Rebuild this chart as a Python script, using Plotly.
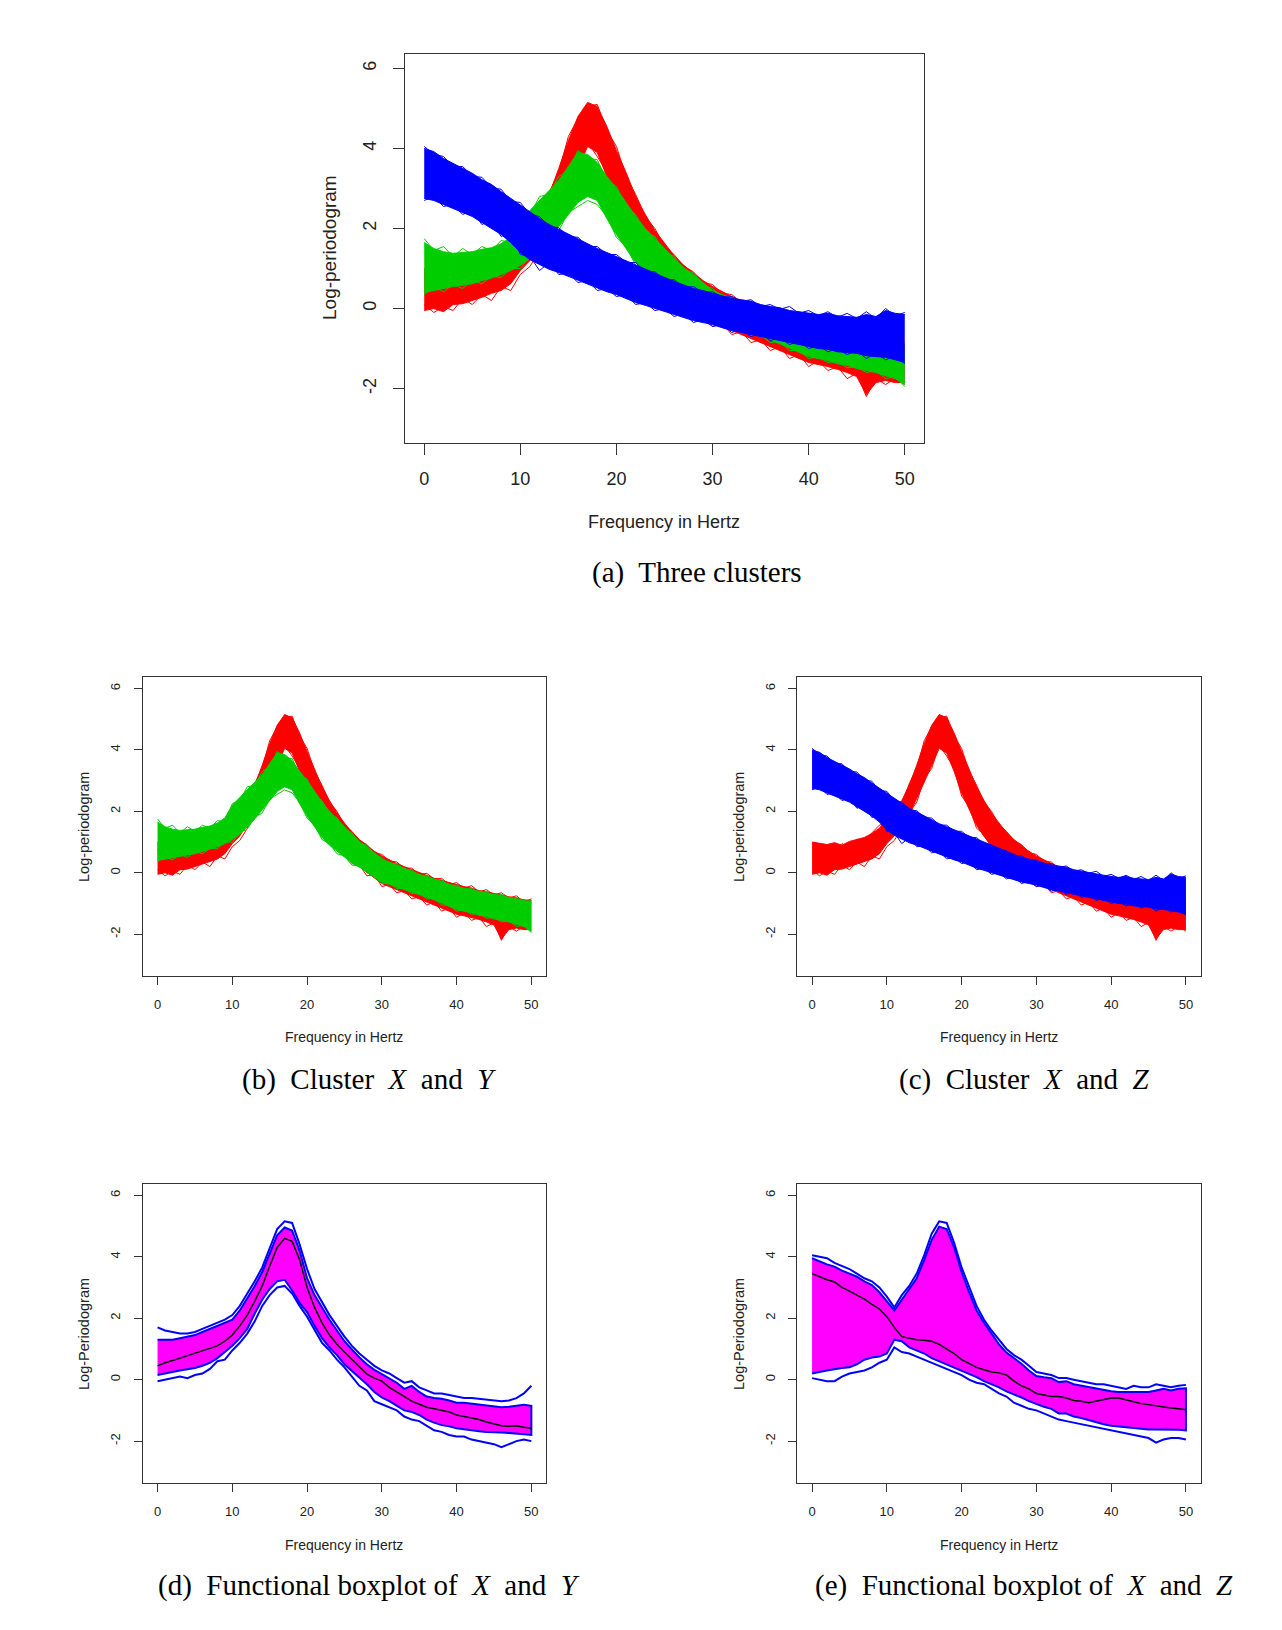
import plotly.graph_objects as go

# frequency grid (Hz)
hz = list(range(0, 51))

# -------------------------- cluster envelopes (log-periodogram) --------------------------
red_hi = [1.00, 0.95, 0.92, 0.98, 0.90, 1.02, 1.08, 1.15, 1.28, 1.45, 1.75, 2.02, 2.35, 2.85, 3.50, 4.20, 4.80,
          5.15, 5.05, 4.55, 3.95, 3.40, 2.80, 2.35, 1.95, 1.62, 1.32, 1.08, 0.88, 0.70, 0.55, 0.42, 0.30, 0.20,
          0.10, 0.00, -0.10, -0.18, -0.25, -0.32, -0.40, -0.45, -0.50, -0.58, -0.62, -0.68, -0.72, -0.78, -0.82,
          -0.88, -0.90]
red_lo = [-0.05, 0.00, -0.08, 0.10, 0.12, 0.20, 0.28, 0.38, 0.45, 0.62, 0.95, 1.20, 1.60, 1.90, 2.40, 2.95, 3.50,
          4.05, 3.90, 3.30, 2.60, 2.08, 1.55, 1.18, 0.88, 0.62, 0.40, 0.20, 0.02, -0.15, -0.35, -0.45, -0.55, -0.65,
          -0.75, -0.85, -0.95, -1.05, -1.15, -1.25, -1.35, -1.40, -1.45, -1.52, -1.60, -1.70, -2.15, -1.85, -1.80,
          -1.85, -1.85]
green_hi = [1.65, 1.50, 1.42, 1.38, 1.40, 1.42, 1.48, 1.52, 1.62, 1.78, 2.20, 2.45, 2.70, 2.95, 3.20, 3.55, 3.90,
            3.85, 3.65, 3.30, 3.00, 2.65, 2.30, 2.00, 1.75, 1.48, 1.25, 1.02, 0.85, 0.65, 0.45, 0.35, 0.25, 0.15,
            0.05, -0.05, -0.12, -0.20, -0.28, -0.38, -0.45, -0.50, -0.55, -0.62, -0.65, -0.72, -0.75, -0.80, -0.85,
            -0.90, -0.95]
green_lo = [0.40, 0.45, 0.50, 0.55, 0.58, 0.62, 0.70, 0.76, 0.85, 0.95, 1.08, 1.25, 1.50, 1.75, 2.05, 2.35, 2.65,
            2.80, 2.70, 2.25, 1.85, 1.50, 1.15, 0.90, 0.70, 0.50, 0.32, 0.18, 0.05, -0.15, -0.30, -0.38, -0.46,
            -0.55, -0.62, -0.70, -0.78, -0.88, -0.98, -1.10, -1.20, -1.25, -1.30, -1.38, -1.42, -1.50, -1.55, -1.60,
            -1.68, -1.75, -1.90]
blue_hi = [4.00, 3.92, 3.75, 3.62, 3.50, 3.38, 3.22, 3.10, 2.92, 2.75, 2.58, 2.42, 2.25, 2.10, 1.98, 1.85, 1.72,
           1.60, 1.50, 1.40, 1.30, 1.20, 1.10, 0.98, 0.88, 0.78, 0.68, 0.58, 0.50, 0.45, 0.38, 0.32, 0.25, 0.22,
           0.18, 0.10, 0.05, 0.02, -0.05, -0.08, -0.12, -0.15, -0.12, -0.18, -0.20, -0.22, -0.15, -0.20, -0.05,
           -0.12, -0.15]
blue_lo = [2.75, 2.70, 2.60, 2.50, 2.40, 2.30, 2.15, 2.00, 1.85, 1.65, 1.40, 1.22, 1.10, 0.98, 0.90, 0.80, 0.70,
           0.60, 0.50, 0.42, 0.35, 0.25, 0.15, 0.08, 0.00, -0.08, -0.15, -0.22, -0.30, -0.35, -0.40, -0.48, -0.55,
           -0.60, -0.65, -0.70, -0.75, -0.80, -0.85, -0.90, -0.95, -1.00, -1.02, -1.08, -1.10, -1.12, -1.18, -1.20,
           -1.22, -1.28, -1.35]

# a few stray curves that stick out of each bundle
red_stray_up = [0.75, 0.60, 0.85, 0.70, 0.95, 0.80, 1.10, 1.00, 1.30, 1.55, 1.65, 2.10, 2.25, 2.90, 3.40, 4.30,
                4.75, 5.05, 5.10, 4.45, 4.05, 3.30, 2.85, 2.30, 2.00, 1.55, 1.35, 1.05, 0.92, 0.65, 0.60, 0.38,
                0.35, 0.15, 0.15, -0.05, -0.02, -0.20, -0.18, -0.38, -0.32, -0.50, -0.42, -0.62, -0.55, -0.72,
                -0.65, -0.82, -0.75, -0.95, -0.85]
red_stray_dn = [0.10, -0.10, 0.05, -0.05, 0.25, 0.10, 0.35, 0.20, 0.55, 0.45, 0.85, 1.05, 1.45, 1.95, 2.30, 3.05,
                3.40, 4.15, 3.80, 3.40, 2.50, 2.15, 1.45, 1.25, 0.80, 0.70, 0.30, 0.25, -0.10, -0.05, -0.45, -0.38,
                -0.65, -0.58, -0.85, -0.78, -1.05, -0.95, -1.25, -1.15, -1.45, -1.30, -1.55, -1.45, -1.75, -1.62,
                -2.20, -1.75, -1.90, -1.75, -1.90]
green_stray_up = [1.75, 1.45, 1.55, 1.30, 1.50, 1.35, 1.55, 1.45, 1.70, 1.65, 2.25, 2.35, 2.80, 2.85, 3.30, 3.45,
                  3.95, 3.75, 3.72, 3.20, 3.05, 2.55, 2.35, 1.90, 1.80, 1.40, 1.30, 0.95, 0.90, 0.60, 0.50, 0.30,
                  0.30, 0.10, 0.10, -0.10, -0.08, -0.25, -0.22, -0.42, -0.40, -0.55, -0.50, -0.68, -0.60, -0.78,
                  -0.70, -0.85, -0.80, -0.95, -0.90]
green_stray_dn = [0.35, 0.55, 0.42, 0.60, 0.50, 0.70, 0.62, 0.80, 0.78, 1.00, 1.00, 1.30, 1.42, 1.80, 1.95, 2.40,
                  2.55, 2.70, 2.60, 2.30, 1.78, 1.55, 1.08, 0.95, 0.62, 0.55, 0.25, 0.22, 0.00, -0.10, -0.35, -0.32,
                  -0.52, -0.50, -0.68, -0.65, -0.85, -0.82, -1.05, -1.05, -1.25, -1.20, -1.35, -1.32, -1.48, -1.45,
                  -1.60, -1.55, -1.75, -1.70, -1.95]
blue_stray_up = [4.05, 3.85, 3.80, 3.55, 3.55, 3.30, 3.28, 3.02, 2.98, 2.68, 2.65, 2.35, 2.30, 2.05, 2.02, 1.80,
                 1.78, 1.55, 1.55, 1.35, 1.35, 1.15, 1.15, 0.92, 0.92, 0.72, 0.72, 0.52, 0.55, 0.40, 0.42, 0.28,
                 0.30, 0.18, 0.22, 0.05, 0.10, -0.02, 0.05, -0.12, -0.05, -0.18, -0.08, -0.22, -0.12, -0.25, -0.08,
                 -0.25, 0.00, -0.18, -0.10]
blue_stray_dn = [2.70, 2.80, 2.55, 2.60, 2.35, 2.45, 2.10, 2.20, 1.80, 1.90, 1.35, 1.30, 0.95, 1.15, 0.85, 0.88,
                 0.65, 0.70, 0.45, 0.50, 0.30, 0.35, 0.10, 0.15, -0.05, 0.00, -0.20, -0.12, -0.35, -0.28, -0.45,
                 -0.40, -0.60, -0.52, -0.70, -0.62, -0.80, -0.72, -0.90, -0.82, -1.00, -0.92, -1.08, -1.00, -1.15,
                 -1.05, -1.25, -1.12, -1.28, -1.20, -1.38]

# -------------------------- functional boxplot, X and Y --------------------------
xy_upper = [1.30, 1.30, 1.30, 1.35, 1.40, 1.45, 1.55, 1.65, 1.75, 1.85, 1.95, 2.25, 2.65, 3.05, 3.50, 4.10, 4.70,
            4.95, 4.85, 4.20, 3.30, 2.75, 2.35, 1.95, 1.60, 1.25, 0.98, 0.72, 0.50, 0.32, 0.18, 0.05, -0.10, -0.30,
            -0.20, -0.40, -0.55, -0.60, -0.62, -0.68, -0.75, -0.75, -0.78, -0.82, -0.85, -0.88, -0.90, -0.88, -0.85,
            -0.82, -0.85]
xy_lower = [0.15, 0.20, 0.25, 0.30, 0.35, 0.38, 0.45, 0.55, 0.70, 0.90, 1.10, 1.35, 1.65, 2.15, 2.60, 2.95, 3.20,
            3.25, 2.90, 2.50, 2.20, 1.75, 1.35, 1.05, 0.80, 0.50, 0.28, 0.05, -0.15, -0.40, -0.58, -0.70, -0.85,
            -1.00, -1.05, -1.15, -1.30, -1.40, -1.48, -1.52, -1.58, -1.62, -1.65, -1.68, -1.70, -1.72, -1.72, -1.74,
            -1.75, -1.78, -1.80]
xy_max = [1.70, 1.60, 1.55, 1.50, 1.50, 1.55, 1.65, 1.75, 1.85, 1.95, 2.10, 2.40, 2.80, 3.20, 3.65, 4.25, 4.90,
          5.15, 5.10, 4.40, 3.60, 2.95, 2.50, 2.10, 1.75, 1.40, 1.10, 0.85, 0.65, 0.45, 0.30, 0.20, 0.05, -0.10,
          -0.05, -0.25, -0.35, -0.45, -0.45, -0.50, -0.55, -0.60, -0.60, -0.62, -0.65, -0.68, -0.70, -0.68, -0.60,
          -0.45, -0.20]
xy_min = [-0.05, 0.00, 0.05, 0.10, 0.05, 0.15, 0.20, 0.35, 0.60, 0.65, 0.95, 1.20, 1.50, 1.90, 2.40, 2.75, 3.00,
          3.05, 2.80, 2.40, 2.05, 1.60, 1.20, 0.95, 0.65, 0.40, 0.10, -0.20, -0.35, -0.70, -0.80, -0.90, -1.00,
          -1.20, -1.30, -1.35, -1.50, -1.65, -1.70, -1.80, -1.85, -1.85, -1.95, -2.00, -2.05, -2.10, -2.20, -2.10,
          -2.00, -1.95, -2.00]
xy_median = [0.45, 0.55, 0.62, 0.70, 0.78, 0.85, 0.92, 1.00, 1.10, 1.25, 1.45, 1.75, 2.10, 2.55, 3.05, 3.70, 4.30,
             4.60, 4.50, 3.90, 3.00, 2.35, 1.85, 1.45, 1.15, 0.90, 0.65, 0.40, 0.18, 0.05, -0.05, -0.25, -0.40,
             -0.55, -0.70, -0.80, -0.90, -0.95, -1.00, -1.05, -1.15, -1.20, -1.25, -1.30, -1.38, -1.45, -1.50,
             -1.52, -1.50, -1.55, -1.58]

# -------------------------- functional boxplot, X and Z --------------------------
xz_upper = [3.95, 3.85, 3.75, 3.68, 3.55, 3.45, 3.35, 3.20, 3.08, 2.85, 2.55, 2.25, 2.60, 2.95, 3.30, 3.90, 4.55,
            4.98, 4.90, 4.30, 3.50, 2.85, 2.25, 1.85, 1.48, 1.15, 0.88, 0.70, 0.52, 0.30, 0.12, 0.08, 0.05, -0.08,
            -0.05, -0.15, -0.20, -0.25, -0.30, -0.35, -0.38, -0.40, -0.40, -0.38, -0.40, -0.40, -0.35, -0.30, -0.35,
            -0.30, -0.28]
xz_lower = [0.20, 0.25, 0.30, 0.35, 0.38, 0.40, 0.50, 0.65, 0.72, 0.75, 0.85, 1.30, 1.25, 1.05, 0.95, 0.85, 0.70,
            0.58, 0.48, 0.38, 0.28, 0.18, 0.08, -0.05, -0.15, -0.25, -0.38, -0.48, -0.58, -0.70, -0.80, -0.88,
            -0.95, -1.10, -1.10, -1.20, -1.25, -1.30, -1.38, -1.45, -1.50, -1.52, -1.55, -1.58, -1.60, -1.62, -1.62,
            -1.63, -1.62, -1.63, -1.65]
xz_max = [4.05, 4.00, 3.95, 3.80, 3.70, 3.60, 3.45, 3.30, 3.20, 3.00, 2.70, 2.35, 2.75, 3.05, 3.45, 4.05, 4.75,
          5.15, 5.10, 4.45, 3.65, 3.00, 2.40, 1.95, 1.60, 1.30, 1.00, 0.80, 0.65, 0.45, 0.25, 0.20, 0.15, 0.05,
          0.05, 0.00, -0.05, -0.10, -0.15, -0.15, -0.20, -0.25, -0.30, -0.20, -0.25, -0.25, -0.15, -0.20, -0.25,
          -0.20, -0.17]
xz_min = [0.05, 0.00, -0.05, -0.05, 0.10, 0.20, 0.25, 0.30, 0.40, 0.55, 0.65, 1.05, 0.90, 0.85, 0.75, 0.65, 0.55,
          0.45, 0.35, 0.25, 0.15, 0.00, -0.10, -0.15, -0.30, -0.45, -0.55, -0.75, -0.85, -0.95, -1.00, -1.10,
          -1.20, -1.30, -1.35, -1.40, -1.45, -1.50, -1.55, -1.60, -1.65, -1.70, -1.75, -1.80, -1.85, -1.90, -2.05,
          -1.95, -1.90, -1.90, -1.95]
xz_median = [3.45, 3.35, 3.25, 3.18, 3.00, 2.88, 2.75, 2.62, 2.45, 2.30, 2.05, 1.70, 1.40, 1.35, 1.30, 1.28, 1.25,
             1.15, 1.00, 0.85, 0.65, 0.52, 0.40, 0.32, 0.25, 0.22, 0.15, -0.05, -0.20, -0.30, -0.45, -0.50, -0.55,
             -0.55, -0.60, -0.68, -0.70, -0.75, -0.70, -0.65, -0.60, -0.60, -0.65, -0.72, -0.78, -0.82, -0.85,
             -0.90, -0.92, -0.95, -0.98]

x_ticks = [0, 10, 20, 30, 40, 50]
y_ticks = [-2, 0, 2, 4, 6]
y_tick_text = ["-2", "0", "2", "4", "6"]

RED = "#FF0000"
GREEN = "#00CD00"
BLUE = "#0000FF"
MAGENTA = "#FF00FF"
W, H = 1282, 1630
SANS = "Liberation Sans, Arial, sans-serif"
SERIF = "Liberation Serif, Times New Roman, serif"

fig = go.Figure()


def band(lo, hi, strays, color, n):
    ax = dict(xaxis="x" if n == 1 else "x%d" % n, yaxis="y" if n == 1 else "y%d" % n)
    fig.add_trace(go.Scatter(x=hz, y=lo, mode="lines", line=dict(color=color, width=1),
                             hoverinfo="skip", **ax))
    fig.add_trace(go.Scatter(x=hz, y=hi, mode="lines", line=dict(color=color, width=1),
                             fill="tonexty", fillcolor=color, hoverinfo="skip", **ax))
    for s in strays:
        fig.add_trace(go.Scatter(x=hz, y=s, mode="lines", line=dict(color=color, width=1),
                                 hoverinfo="skip", **ax))


def fbplot(upper, lower, mx, mn, med, n):
    ax = dict(xaxis="x%d" % n, yaxis="y%d" % n)
    # central 50% region as a polygon with blue border
    fig.add_trace(go.Scatter(x=hz + hz[::-1], y=upper + lower[::-1], mode="lines",
                             fill="toself", fillcolor=MAGENTA, line=dict(color=BLUE, width=2),
                             hoverinfo="skip", **ax))
    fig.add_trace(go.Scatter(x=hz, y=mx, mode="lines", line=dict(color=BLUE, width=2), hoverinfo="skip", **ax))
    fig.add_trace(go.Scatter(x=hz, y=mn, mode="lines", line=dict(color=BLUE, width=2), hoverinfo="skip", **ax))
    fig.add_trace(go.Scatter(x=hz, y=med, mode="lines", line=dict(color="black", width=1.5),
                             hoverinfo="skip", **ax))


red_strays = [red_stray_up, red_stray_dn]
green_strays = [green_stray_up, green_stray_dn]
blue_strays = [blue_stray_up, blue_stray_dn]

# (a) three clusters
band(red_lo, red_hi, red_strays, RED, 1)
band(green_lo, green_hi, green_strays, GREEN, 1)
band(blue_lo, blue_hi, blue_strays, BLUE, 1)
# (b) X and Y
band(red_lo, red_hi, red_strays, RED, 2)
band(green_lo, green_hi, green_strays, GREEN, 2)
# (c) X and Z
band(red_lo, red_hi, red_strays, RED, 3)
band(blue_lo, blue_hi, blue_strays, BLUE, 3)
# (d), (e) functional boxplots
fbplot(xy_upper, xy_lower, xy_max, xy_min, xy_median, 4)
fbplot(xz_upper, xz_lower, xz_max, xz_min, xz_median, 5)


def px(x):
    return x / W


def py(y):
    return 1 - y / H


def axes(xdom, ydom, size, ticklen, xstand, ystand):
    common = dict(showgrid=False, zeroline=False, showline=True, mirror=True, linecolor="#333",
                  linewidth=1.2, ticks="outside", ticklen=ticklen, tickcolor="#333", tickwidth=1.2,
                  tickfont=dict(family=SANS, size=size, color="#222"))
    xa = dict(domain=xdom, range=[-2, 52], tickvals=x_ticks, ticklabelstandoff=xstand, **common)
    ya = dict(domain=ydom, range=[-3.36, 6.36], tickvals=y_ticks, ticktext=y_tick_text, tickangle=-90,
              ticklabelstandoff=ystand, **common)
    return xa, ya


panels = [
    ((px(397), px(916)), (py(435), py(46)), 18, 11, 8, 10),
    ((px(134.6), px(538.3)), (py(968), py(669.4)), 13, 8, 8, 8),
    ((px(789.1), px(1192.9)), (py(968), py(669.4)), 13, 8, 8, 8),
    ((px(134.6), px(538.3)), (py(1474.9), py(1176.2)), 13, 8, 8, 8),
    ((px(789.1), px(1192.9)), (py(1474.9), py(1176.2)), 13, 8, 8, 8),
]
layout_axes = {}
for i, (xd, yd, sz, tl, xs, ys) in enumerate(panels, start=1):
    xa, ya = axes(xd, yd, sz, tl, xs, ys)
    sfx = "" if i == 1 else str(i)
    xa["anchor"] = "y" + sfx
    ya["anchor"] = "x" + sfx
    layout_axes["xaxis" + sfx] = xa
    layout_axes["yaxis" + sfx] = ya

ann = []


def label(text, x, y, size, family=SANS, angle=0):
    ann.append(dict(text=text, x=px(x), y=py(y), xref="paper", yref="paper", showarrow=False,
                    xanchor="center", yanchor="middle", textangle=angle,
                    font=dict(family=family, size=size, color="#222" if family == SANS else "black")))


# panel (a)
label("Frequency in Hertz", 656, 514, 18)
label("Log-periodogram", 321, 240, 19, angle=-90)
label("(a)  Three clusters", 689, 564, 29, SERIF)
# panels (b)-(e)
label("Frequency in Hertz", 336, 1029, 14)
label("Frequency in Hertz", 991, 1029, 14)
label("Frequency in Hertz", 336, 1537, 14)
label("Frequency in Hertz", 991, 1537, 14)
label("Log-periodogram", 76, 819, 14.5, angle=-90)
label("Log-periodogram", 731, 819, 14.5, angle=-90)
label("Log-Periodogram", 76, 1326, 14.5, angle=-90)
label("Log-Periodogram", 731, 1326, 14.5, angle=-90)
label("(b)  Cluster  <i>X</i>  and  <i>Y</i>", 361, 1071, 29, SERIF)
label("(c)  Cluster  <i>X</i>  and  <i>Z</i>", 1016, 1071, 29, SERIF)
label("(d)  Functional boxplot of  <i>X</i>  and  <i>Y</i>", 361, 1577, 29, SERIF)
label("(e)  Functional boxplot of  <i>X</i>  and  <i>Z</i>", 1016, 1577, 29, SERIF)

fig.update_layout(width=W, height=H, margin=dict(l=0, r=0, t=0, b=0), showlegend=False,
                  paper_bgcolor="white", plot_bgcolor="white", annotations=ann, **layout_axes)

fig.write_html("out.html")
